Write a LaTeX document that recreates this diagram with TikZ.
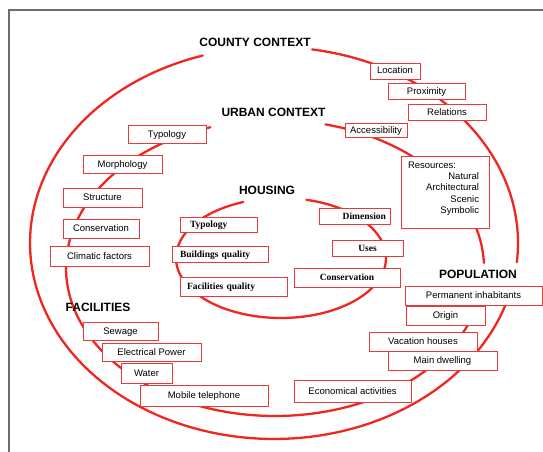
\documentclass[tikz,border=0pt]{standalone}
\usepackage{fontspec}
\setmainfont{Liberation Sans}
\newfontfamily\timesfam{Liberation Serif}
\definecolor{ringred}{RGB}{240,38,32}
\definecolor{boxred}{RGB}{232,58,58}
\definecolor{framegray}{RGB}{110,110,110}
\begin{document}
\begin{tikzpicture}[x=1pt,y=-1pt,
  box/.style={draw=boxred, fill=white, line width=0.9pt, inner sep=0pt,
    text height=7pt, text depth=1pt,
    font=\fontsize{9.5}{11.3}\selectfont},
  hbox/.style={box, font=\timesfam\bfseries\fontsize{9.5}{11}\selectfont},
  title/.style={font=\bfseries\fontsize{12}{14}\selectfont, inner sep=1pt},
  ring/.style={draw=ringred, line width=2.3pt, line cap=round}]
\useasboundingbox (0,0) rectangle (543,452);
% frame
\draw[framegray, line width=1.5pt] (9,452) -- (9,10) -- (543,10);
% outer ring (county)
\draw[ring] plot[domain=18.6:253, samples=120] ({274+244*cos(\x)},{243+196*sin(\x)});
\draw[ring] plot[domain=279:365.6, samples=60] ({274+244*cos(\x)},{243+196*sin(\x)});
% middle ring (urban)
\draw[ring] plot[domain=14:252, samples=120] ({275+209*cos(\x)},{268+148*sin(\x)});
\draw[ring] plot[domain=284:358, samples=60] ({275+209*cos(\x)},{268+148*sin(\x)});
% inner ring (housing)
\draw[ring] plot[domain=-76:249, samples=120] ({281+105*cos(\x)},{258+60*sin(\x)});
% titles
\node[title] (county) at (255,42) {COUNTY CONTEXT};
\node[title] (urban) at (273.5,112) {URBAN CONTEXT};
\node[title] (housing) at (267,190) {HOUSING};
\node[title] (facilities) at (98,307) {FACILITIES};
\node[title] (population) at (478,274) {POPULATION};
% county boxes
\node[box, minimum width=50pt, minimum height=16pt] (loc) at (395,71) {Location};
\node[box, minimum width=77pt, minimum height=16pt] (prox) at (426.5,91) {Proximity};
\node[box, minimum width=78pt, minimum height=16pt] (rel) at (447,112) {Relations};
% urban boxes
\node[box, minimum width=78pt, minimum height=18pt] (typo) at (167,134) {Typology};
\node[box, minimum width=62pt, minimum height=14pt] (acc) at (376,130) {Accessibility};
\node[box, minimum width=79pt, minimum height=18pt] (morph) at (122.5,164) {Morphology};
\node[box, minimum width=88pt, minimum height=72pt] (res) at (445,192) {};
\node[font=\fontsize{9.5}{11.3}\selectfont, align=right, text width=71pt, inner sep=0pt, anchor=north] (restext) at ([xshift=-1.5pt,yshift=-6pt]res.north)
  {\makebox[\linewidth][l]{Resources:}\\Natural\\Architectural\\Scenic\\Symbolic};
\node[box, minimum width=79pt, minimum height=19pt] (struct) at (102.5,197.5) {Structure};
\node[box, minimum width=76pt, minimum height=19pt] (cons1) at (101,228.5) {Conservation};
\node[box, minimum width=99pt, minimum height=20pt] (clim) at (99.5,256) {Climatic factors};
% housing boxes
\node[hbox, text width=57pt, inner xsep=10pt, align=left, minimum height=15pt] (htypo) at (218.5,224.5) {Typology};
\node[hbox, text width=80pt, inner xsep=8pt, align=left, minimum height=16pt] (bq) at (220,254) {Buildings quality};
\node[hbox, text width=93pt, inner xsep=7pt, align=left, minimum height=19pt] (fq) at (233.5,286.5) {Facilities quality};
\node[hbox, text width=63pt, inner xsep=4pt, align=right, minimum height=16pt] (dim) at (354.5,216) {Dimension};
\node[hbox, minimum width=71pt, minimum height=16pt] (uses) at (367.5,248) {Uses};
\node[hbox, minimum width=106pt, minimum height=19pt] (cons2) at (347,277.5) {Conservation};
% population boxes
\node[box, minimum width=137pt, minimum height=19pt] (perm) at (473.5,295.5) {Permanent inhabitants};
\node[box, minimum width=79pt, minimum height=19pt] (orig) at (445.5,315.5) {Origin};
\node[box, minimum width=108pt, minimum height=19pt] (vac) at (423,341.5) {Vacation houses};
\node[box, minimum width=109pt, minimum height=19pt] (main) at (442.5,360.5) {Main dwelling};
\node[box, minimum width=117pt, minimum height=22pt] (econ) at (352.5,391) {Economical activities};
% facilities boxes
\node[box, minimum width=75pt, minimum height=18pt] (sew) at (120.5,331) {Sewage};
\node[box, minimum width=99pt, minimum height=18pt] (elec) at (151.5,352) {Electrical Power};
\node[box, minimum width=51pt, minimum height=20pt] (water) at (146.5,373) {Water};
\node[box, minimum width=128pt, minimum height=21pt] (mob) at (204,395.5) {Mobile telephone};
\end{tikzpicture}
\end{document}
